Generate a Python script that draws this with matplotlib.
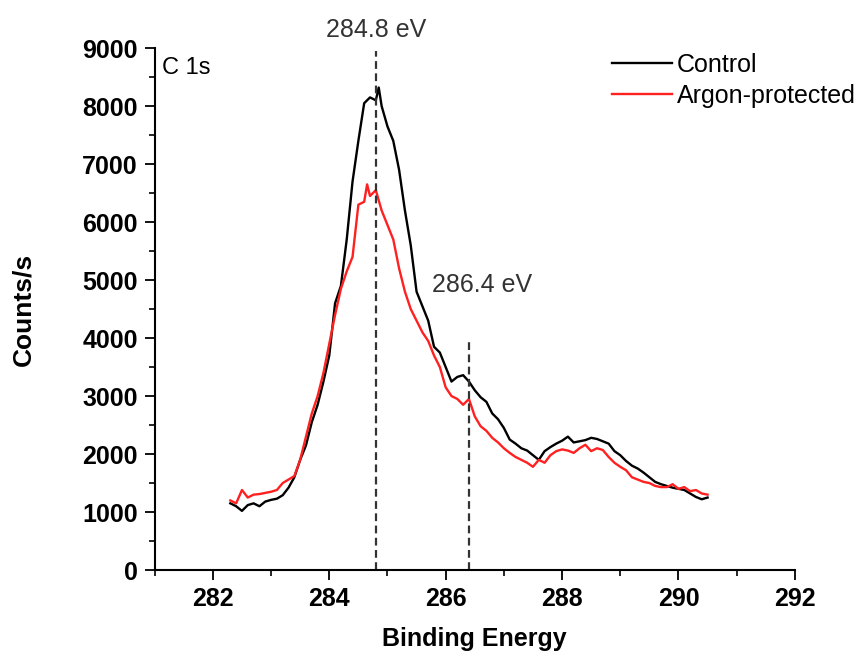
import matplotlib.pyplot as plt
from matplotlib.ticker import MultipleLocator

plt.rcParams['font.family'] = ['Liberation Sans', 'DejaVu Sans']

# binding energy grid (eV) and counts for the two samples
energy_control = [282.3, 282.4, 282.5, 282.6, 282.7, 282.8, 282.9, 283.0, 283.1, 283.2,
                  283.3, 283.4, 283.5, 283.6, 283.7, 283.8, 283.9, 284.0, 284.1, 284.2,
                  284.3, 284.4, 284.5, 284.6, 284.7, 284.8, 284.85, 284.9, 285.0, 285.1,
                  285.2, 285.3, 285.4, 285.5, 285.6, 285.7, 285.8, 285.9, 286.0, 286.1,
                  286.2, 286.3, 286.4, 286.5, 286.6, 286.7, 286.8, 286.9, 287.0, 287.1,
                  287.2, 287.3, 287.4, 287.5, 287.6, 287.7, 287.8, 287.9, 288.0, 288.1,
                  288.2, 288.3, 288.4, 288.5, 288.6, 288.7, 288.8, 288.9, 289.0, 289.1,
                  289.2, 289.3, 289.4, 289.5, 289.6, 289.7, 289.8, 289.9, 290.0, 290.1,
                  290.2, 290.3, 290.4, 290.5]
control = [1150, 1100, 1020, 1120, 1150, 1100, 1180, 1210, 1230, 1290,
           1420, 1600, 1900, 2150, 2550, 2850, 3250, 3700, 4600, 4900,
           5700, 6700, 7400, 8050, 8150, 8100, 8320, 8000, 7650, 7400,
           6900, 6200, 5600, 4800, 4550, 4300, 3850, 3750, 3500, 3250,
           3330, 3360, 3250, 3100, 2980, 2900, 2700, 2600, 2450, 2250,
           2180, 2100, 2060, 1980, 1900, 2050, 2120, 2180, 2230, 2300,
           2200, 2220, 2240, 2280, 2260, 2220, 2180, 2050, 1980, 1880,
           1800, 1750, 1680, 1600, 1520, 1480, 1450, 1420, 1400, 1380,
           1320, 1260, 1220, 1250]

energy_argon = [282.3, 282.4, 282.5, 282.6, 282.7, 282.8, 282.9, 283.0, 283.1, 283.2,
                283.3, 283.4, 283.5, 283.6, 283.7, 283.8, 283.9, 284.0, 284.1, 284.2,
                284.3, 284.4, 284.5, 284.6, 284.65, 284.7, 284.8, 284.9, 285.0, 285.1,
                285.2, 285.3, 285.4, 285.5, 285.6, 285.7, 285.8, 285.9, 286.0, 286.1,
                286.2, 286.3, 286.4, 286.5, 286.6, 286.7, 286.8, 286.9, 287.0, 287.1,
                287.2, 287.3, 287.4, 287.5, 287.6, 287.7, 287.8, 287.9, 288.0, 288.1,
                288.2, 288.3, 288.4, 288.5, 288.6, 288.7, 288.8, 288.9, 289.0, 289.1,
                289.2, 289.3, 289.4, 289.5, 289.6, 289.7, 289.8, 289.9, 290.0, 290.1,
                290.2, 290.3, 290.4, 290.5]
argon = [1200, 1150, 1380, 1250, 1300, 1310, 1330, 1350, 1380, 1500,
         1560, 1620, 1900, 2300, 2700, 3000, 3400, 3900, 4400, 4850,
         5150, 5400, 6300, 6350, 6650, 6450, 6550, 6200, 5950, 5700,
         5200, 4800, 4500, 4300, 4100, 3950, 3700, 3500, 3150, 3000,
         2950, 2850, 2950, 2650, 2480, 2400, 2280, 2200, 2100, 2020,
         1950, 1900, 1850, 1780, 1900, 1850, 1980, 2050, 2080, 2060,
         2020, 2100, 2160, 2050, 2100, 2070, 1950, 1850, 1780, 1720,
         1600, 1560, 1520, 1500, 1450, 1430, 1430, 1480, 1400, 1430,
         1360, 1380, 1320, 1300]

peak_positions = [284.8, 286.4]
peak_tops = [8950, 3930]
peak_labels = ['284.8 eV', '286.4 eV']

fig = plt.figure(figsize=(8.64, 6.59), dpi=100)
ax = fig.add_axes([0.179, 0.135, 0.741, 0.792])

ax.plot(energy_control, control, color='black', lw=1.7, label='Control')
ax.plot(energy_argon, argon, color='#ff2020', lw=1.7, label='Argon-protected')

# dashed markers for the peak positions
ax.vlines(peak_positions, 0, peak_tops, colors='#333333', linestyles=(0, (3.5, 2)), lw=1.6)
ax.text(284.8, 9310, peak_labels[0], ha='center', va='center', fontsize=18,
        color='#333333', clip_on=False)
ax.text(286.62, 4910, peak_labels[1], ha='center', va='center', fontsize=18,
        color='#333333')
ax.text(281.12, 8650, 'C 1s', ha='left', va='center', fontsize=17)

ax.set_xlim(281, 292)
ax.set_ylim(0, 9000)
ax.xaxis.set_major_locator(MultipleLocator(2))
ax.xaxis.set_minor_locator(MultipleLocator(1))
ax.yaxis.set_major_locator(MultipleLocator(1000))
ax.yaxis.set_minor_locator(MultipleLocator(500))
ax.tick_params(which='major', direction='out', length=7, width=1.3, labelsize=18, pad=5)
ax.tick_params(which='minor', direction='out', length=4, width=1.2)
for lab in ax.get_xticklabels() + ax.get_yticklabels():
    lab.set_fontweight('bold')

ax.spines['top'].set_visible(False)
ax.spines['right'].set_visible(False)
ax.spines['left'].set_linewidth(1.5)
ax.spines['bottom'].set_linewidth(1.5)

ax.set_xlabel('Binding Energy', fontsize=18, fontweight='bold')
ax.set_ylabel('Counts/s', fontsize=19, fontweight='bold')
ax.xaxis.set_label_coords(0.5, -0.11)
ax.yaxis.set_label_coords(-0.186, 0.5)

fig.legend(loc='upper left', bbox_to_anchor=(0.708, 0.92), frameon=False, borderpad=0,
           borderaxespad=0, fontsize=18, handlelength=2.4, handletextpad=0.2,
           labelspacing=0.3)

fig.savefig('out.png', dpi=100)
